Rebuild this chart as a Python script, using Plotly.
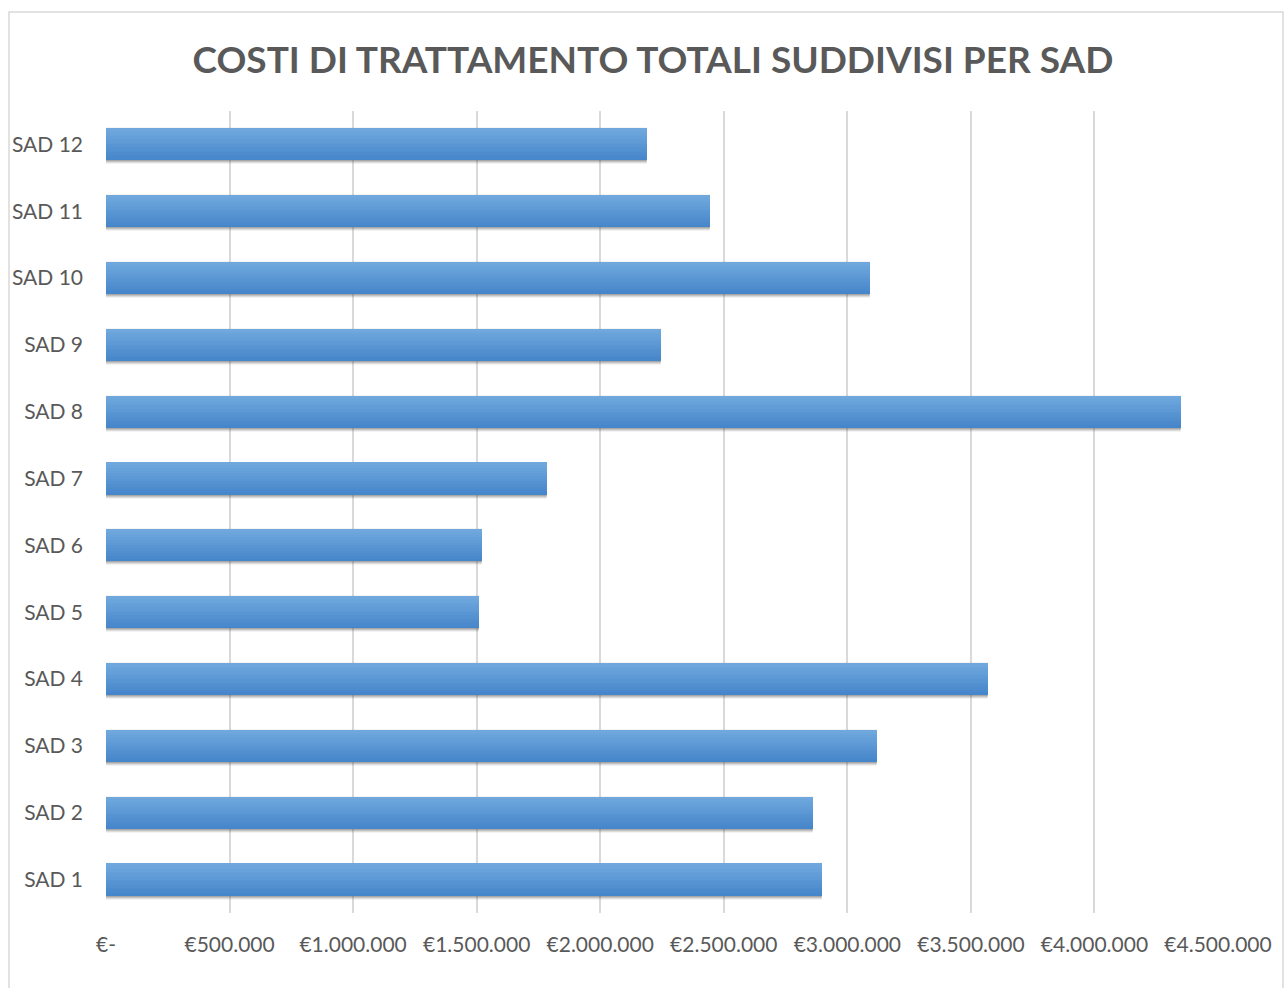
import plotly.graph_objects as go

# Costi di trattamento totali per SAD (euro)
categories = ["SAD 1", "SAD 2", "SAD 3", "SAD 4", "SAD 5", "SAD 6",
              "SAD 7", "SAD 8", "SAD 9", "SAD 10", "SAD 11", "SAD 12"]
costs = [2898000, 2861000, 3120000, 3569000, 1510000, 1522000,
         1785000, 4350000, 2246000, 3092000, 2444000, 2189000]

tick_values = [0, 500000, 1000000, 1500000, 2000000, 2500000,
               3000000, 3500000, 4000000, 4500000]
tick_labels = ["€-", "€500.000", "€1.000.000", "€1.500.000", "€2.000.000",
               "€2.500.000", "€3.000.000", "€3.500.000", "€4.000.000",
               "€4.500.000"]

W, H = 1284, 988
ML, MR, MT, MB = 106, 66, 111, 75
BAR_W = 0.48
TEXT = "#595959"
FONT = "Lato"

fig = go.Figure()

# soft drop shadow under each bar
for dy, op in [(-0.06, 0.08), (-0.045, 0.12), (-0.03, 0.16), (-0.015, 0.2)]:
    fig.add_trace(go.Bar(
        y=categories, x=costs, orientation="h",
        width=BAR_W, offset=-BAR_W / 2 + dy,
        marker=dict(color=f"rgba(60,60,60,{op})",
                    line=dict(width=1.5, color=f"rgba(60,60,60,{op / 2})")),
        hoverinfo="skip", showlegend=False,
    ))

# vertical gradient: darker at the bottom, lighter at the top
n_strips = 12
c_bot = (70, 134, 202)
c_top = (112, 168, 222)
strip = BAR_W / n_strips
for i in range(n_strips):
    t = i / (n_strips - 1)
    col = tuple(round(c_bot[j] + (c_top[j] - c_bot[j]) * t) for j in range(3))
    fig.add_trace(go.Bar(
        y=categories, x=costs, orientation="h",
        width=strip * 1.05, offset=-BAR_W / 2 + i * strip,
        marker=dict(color=f"rgb{col}", line=dict(width=0)),
        hovertemplate="%{y}: €%{x:,.0f}<extra></extra>",
        showlegend=False,
    ))

pw = W - ML - MR
ph = H - MT - MB
fig.add_shape(
    type="rect", xref="paper", yref="paper",
    x0=(9 - ML) / pw, x1=(W - 1 - ML) / pw,
    y0=(MB - H - 10 - MB) / ph, y1=(H - 12 - MB) / ph,
    line=dict(color="#d9d9d9", width=1.5), fillcolor="rgba(0,0,0,0)",
    layer="below",
)

fig.update_layout(
    width=W, height=H,
    margin=dict(l=ML, r=MR, t=MT, b=MB),
    paper_bgcolor="white", plot_bgcolor="white",
    barmode="overlay", bargap=0,
    title=dict(
        text="<b>COSTI DI TRATTAMENTO TOTALI SUDDIVISI PER SAD</b>",
        font=dict(family=FONT, size=37, color=TEXT),
        x=653 / W, xanchor="center", y=1 - 60 / H, yanchor="middle",
    ),
    xaxis=dict(
        range=[0, 4500000], tickvals=tick_values, ticktext=tick_labels,
        showgrid=True, gridcolor="#d9d9d9", gridwidth=2,
        zeroline=False, showline=False, ticks="",
        tickfont=dict(family=FONT, size=21, color=TEXT),
        ticklabelstandoff=17, fixedrange=True,
    ),
    yaxis=dict(
        type="category", categoryorder="array", categoryarray=categories,
        range=[-0.5, len(categories) - 0.5],
        showgrid=False, zeroline=False, showline=False, ticks="",
        tickfont=dict(family=FONT, size=21, color=TEXT),
        ticklabelstandoff=22, fixedrange=True,
    ),
)

fig.write_html("out.html")
